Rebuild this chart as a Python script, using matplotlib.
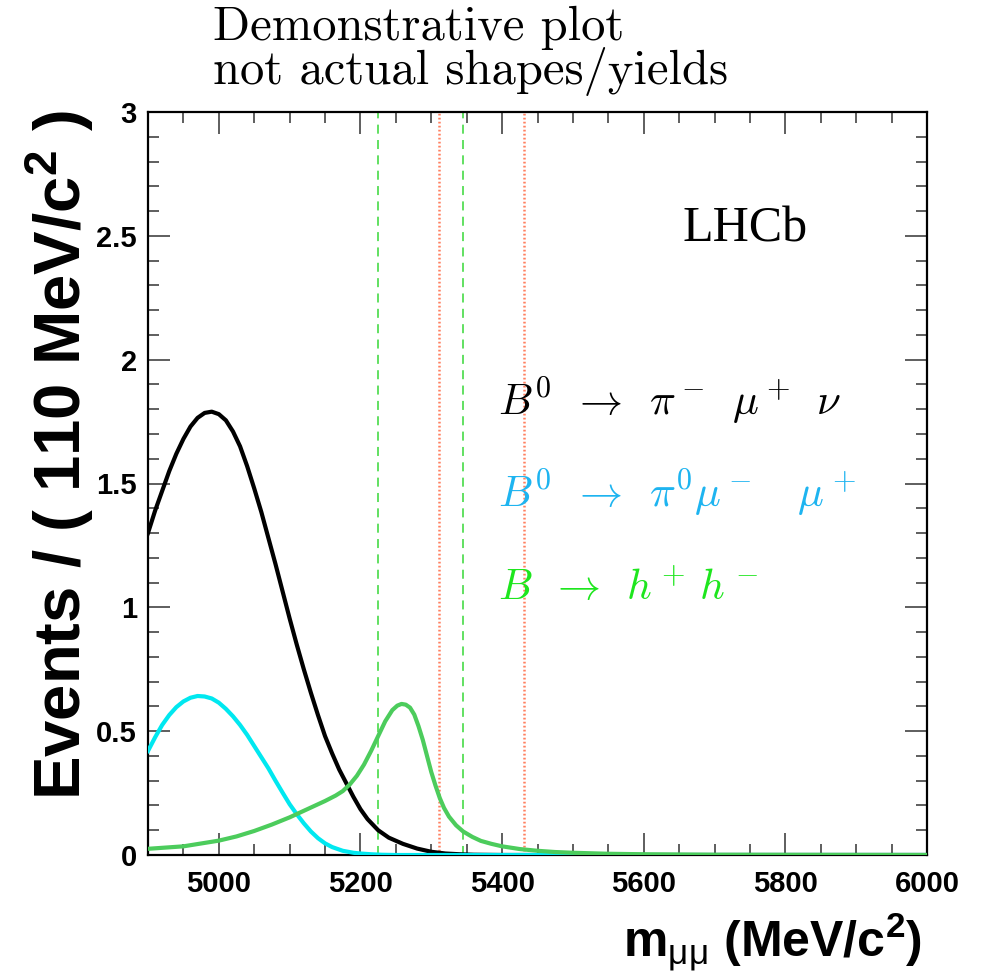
import matplotlib
matplotlib.use("Agg")
import matplotlib.pyplot as plt
from matplotlib.ticker import MultipleLocator, FixedLocator

plt.rcParams['mathtext.fontset'] = 'custom'
plt.rcParams['mathtext.rm'] = 'Liberation Sans:bold'
plt.rcParams['mathtext.bf'] = 'Liberation Sans:bold'
plt.rcParams['mathtext.it'] = 'Liberation Sans'

# curves (mass in MeV/c^2, events per bin)
mass_black = [4900, 4910, 4920, 4930, 4940, 4950, 4960, 4970, 4980, 4990, 5000,
              5010, 5020, 5030, 5040, 5050, 5060, 5070, 5080, 5090, 5100, 5110,
              5120, 5130, 5140, 5150, 5160, 5170, 5180, 5190, 5200, 5210, 5225,
              5240, 5260, 5280, 5300, 5320, 5340, 5360, 5400, 6000]
ev_black = [1.30, 1.39, 1.47, 1.55, 1.62, 1.68, 1.73, 1.765, 1.785, 1.79, 1.78,
            1.755, 1.71, 1.65, 1.57, 1.48, 1.385, 1.28, 1.175, 1.065, 0.955, 0.85,
            0.75, 0.655, 0.565, 0.48, 0.41, 0.345, 0.29, 0.235, 0.185, 0.145, 0.10,
            0.07, 0.045, 0.026, 0.013, 0.006, 0.003, 0.001, 0.0, 0.0]

mass_cyan = [4900, 4910, 4920, 4930, 4940, 4950, 4960, 4970, 4980, 4990, 5000,
             5010, 5020, 5030, 5040, 5050, 5060, 5070, 5080, 5090, 5100, 5110,
             5120, 5130, 5140, 5150, 5160, 5175, 5190, 5200, 5215, 5230, 5250, 6000]
ev_cyan = [0.42, 0.475, 0.525, 0.565, 0.597, 0.62, 0.635, 0.642, 0.64, 0.632, 0.615,
           0.59, 0.56, 0.525, 0.485, 0.44, 0.395, 0.35, 0.30, 0.252, 0.205, 0.165,
           0.128, 0.095, 0.068, 0.047, 0.032, 0.017, 0.009, 0.006, 0.003, 0.001, 0.0, 0.0]

mass_green = [4900, 4950, 5000, 5025, 5050, 5075, 5100, 5125, 5150, 5165, 5175,
              5185, 5195, 5205, 5215, 5225, 5235, 5245, 5252, 5258, 5264, 5270,
              5276, 5282, 5288, 5294, 5300, 5306, 5312, 5318, 5325, 5335, 5345,
              5358, 5370, 5385, 5400, 5425, 5450, 5475, 5500, 5550, 5600, 5700, 6000]
ev_green = [0.025, 0.035, 0.058, 0.075, 0.097, 0.123, 0.152, 0.185, 0.218, 0.24, 0.258,
            0.285, 0.32, 0.365, 0.42, 0.48, 0.54, 0.585, 0.603, 0.61, 0.607, 0.595,
            0.567, 0.52, 0.465, 0.40, 0.335, 0.28, 0.23, 0.19, 0.155, 0.12, 0.095,
            0.073, 0.057, 0.045, 0.035, 0.024, 0.017, 0.012, 0.009, 0.005, 0.003, 0.001, 0.0]

green_window = [5225, 5345]
red_window = [5311, 5431]

x_ticks = [5000, 5200, 5400, 5600, 5800, 6000]
y_ticks = [0, 0.5, 1, 1.5, 2, 2.5, 3]
y_ticklabels = ['0', '0.5', '1', '1.5', '2', '2.5', '3']

fig = plt.figure(figsize=(9.93, 9.76), dpi=100)
ax = fig.add_axes([148/993, 1-855/976, (927-148)/993, (855-112)/976])

ax.plot(mass_black, ev_black, color='black', lw=3, zorder=3)
ax.plot(mass_cyan, ev_cyan, color='#00e8f0', lw=3, zorder=3)
ax.plot(mass_green, ev_green, color='#4ccc5c', lw=3, zorder=3)

for xv in green_window:
    ax.axvline(xv, color='#55dd55', lw=1.3, ls=(0, (5, 3.5)), zorder=2)
for xv in red_window:
    ax.axvline(xv, color='#ff8060', lw=1.8, ls=(0, (0.7, 0.9)), zorder=2)

ax.set_xlim(4900, 6000)
ax.set_ylim(0, 3)
ax.xaxis.set_major_locator(FixedLocator(x_ticks))
ax.xaxis.set_minor_locator(MultipleLocator(50))
ax.yaxis.set_major_locator(FixedLocator(y_ticks))
ax.yaxis.set_minor_locator(MultipleLocator(0.1))
ax.set_yticklabels(y_ticklabels)

ax.tick_params(which='both', direction='in', top=True, right=True, width=1.1, color='#333333')
ax.tick_params(which='major', length=16)
ax.tick_params(which='minor', length=8)
ax.tick_params(axis='x', which='major', pad=11)
ax.tick_params(axis='y', which='major', pad=8)
for lab in ax.get_xticklabels() + ax.get_yticklabels():
    lab.set_fontfamily('Liberation Sans')
    lab.set_fontweight('bold')
    lab.set_fontsize(21)
for sp in ax.spines.values():
    sp.set_linewidth(1.6)

fig.text(60/993, 1-110/976, r'Events / ( 110 MeV/c$^{\mathbf{2}}$ )', rotation=90,
         ha='center', va='top', fontsize=47, fontweight='bold', family='Liberation Sans')
fig.text(922/993, 1-942/976, r'$\mathbf{m}_{\mu\mu}$ (MeV/c$^{\mathbf{2}}$)',
         ha='right', va='center', fontsize=36, fontweight='bold', family='Liberation Sans')

fig.text(213/993, 1-40/976, 'Demonstrative plot', family='cmr10', fontsize=35, va='baseline')
fig.text(213/993, 1-84/976, 'not actual shapes/yields', family='cmr10', fontsize=35, va='baseline')

fig.text(683/993, 1-241/976, 'LHCb', family='Liberation Serif', fontsize=36, va='baseline')

fig.text(498/993, 1-415/976, r'$B^0\enspace\rightarrow\enspace\pi^-\enspace\mu^+\enspace\nu$',
         fontsize=31, math_fontfamily='cm', color='black', va='baseline')
fig.text(498/993, 1-507/976, r'$B^0\enspace\rightarrow\enspace\pi^0\mu^-\quad\mu^+$',
         fontsize=31, math_fontfamily='cm', color='#1eb4f0', va='baseline')
fig.text(498/993, 1-600/976, r'$B\enspace\rightarrow\enspace h^+\,h^-$',
         fontsize=31, math_fontfamily='cm', color='#1ee61e', va='baseline')

fig.savefig('out.png', dpi=100)
